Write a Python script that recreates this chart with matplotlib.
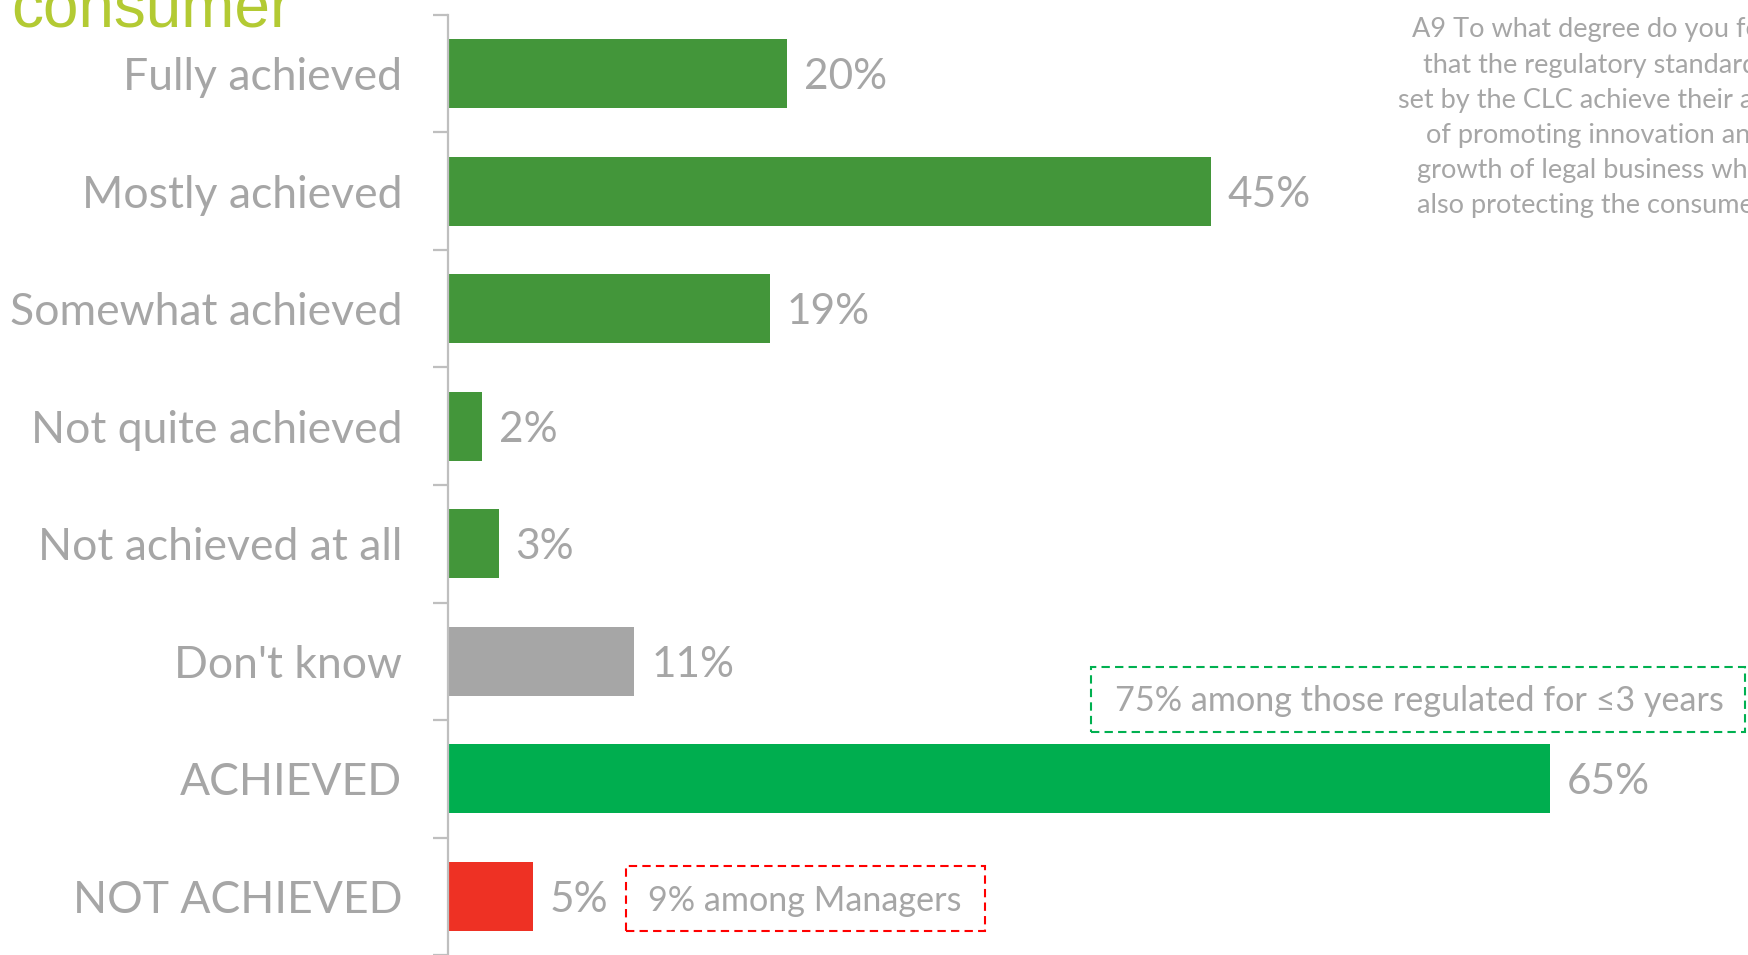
import matplotlib
matplotlib.use("Agg")
import matplotlib.pyplot as plt
from matplotlib.patches import Rectangle

categories = ["Fully achieved", "Mostly achieved", "Somewhat achieved",
              "Not quite achieved", "Not achieved at all", "Don't know",
              "ACHIEVED", "NOT ACHIEVED"]
values = [20, 45, 19, 2, 3, 11, 65, 5]
bar_colors = ["#43963A", "#43963A", "#43963A", "#43963A", "#43963A",
              "#A6A6A6", "#00AE4F", "#EE3124"]
value_labels = [f"{v}%" for v in values]

question_lines = ["A9 To what degree do you feel",
                  "that the regulatory standards",
                  "set by the CLC achieve their aims",
                  "of promoting innovation and",
                  "growth of legal business while",
                  "also protecting the consumer?"]
title_text = "consumer"
note_green = "75% among those regulated for \u22643 years"
note_red = "9% among Managers"

W, H = 1748, 955
FONT = ["Lato", "DejaVu Sans"]
GREY = "#A6A6A6"

fig = plt.figure(figsize=(W / 100, H / 100), dpi=100)
fig.patch.set_facecolor("white")

def fx(px):
    return px / W

def fy(py):
    return 1 - py / H

ax_left, ax_top = 448, 15
ax = fig.add_axes([fx(ax_left), 0.0, 1 - fx(ax_left), fy(ax_top)])
n = len(categories)
ypos = list(range(n))
ax.barh(ypos, values, height=0.587, color=bar_colors, zorder=2)
ax.set_ylim(n - 0.5, -0.5)
ax.set_xlim(0, (W - ax_left) / 16.95)

for sp in ["top", "right", "bottom"]:
    ax.spines[sp].set_visible(False)
ax.spines["left"].set_color("#BFBFBF")
ax.spines["left"].set_linewidth(1.6)
ax.set_xticks([])
ax.set_yticks(ypos)
ax.set_yticklabels(categories, fontfamily=FONT, fontsize=32, color=GREY)
ax.tick_params(axis="y", which="major", length=0, pad=33)
ax.set_yticks([i - 0.5 for i in range(n + 1)], minor=True)
ax.tick_params(axis="y", which="minor", length=11, width=1.6, color="#BFBFBF")

for i, (v, lab) in enumerate(zip(values, value_labels)):
    ax.annotate(lab, xy=(v, i), xytext=(12, -2.4), textcoords="offset points",
                va="center", ha="left", fontfamily=FONT, fontsize=30.5, color=GREY)

# title fragment
fig.text(fx(11), fy(27), title_text, fontfamily=["Liberation Sans", "DejaVu Sans"],
         fontsize=46, color="#B3CA33", va="baseline", ha="left")

# question text
for k, line in enumerate(question_lines):
    fig.text(fx(1596), fy(30 + 35.2 * k), line, fontfamily=FONT, fontsize=19.5,
             color=GREY, ha="center", va="center")

# annotation boxes
def dashed_box(x0, y0, x1, y1, color):
    r = Rectangle((fx(x0), fy(y1)), fx(x1) - fx(x0), fy(y0) - fy(y1),
                  transform=fig.transFigure, fill=False, edgecolor=color,
                  linewidth=1.5, linestyle=(0, (4, 2.5)), zorder=5)
    fig.add_artist(r)

dashed_box(1091, 667, 1745, 732, "#00B050")
fig.text(fx(1419), fy(701), note_green, fontfamily=FONT, fontsize=24.6,
         color=GREY, ha="center", va="center")
dashed_box(626, 866, 985, 931, "#FF0000")
fig.text(fx(805), fy(901), note_red, fontfamily=FONT, fontsize=24.6,
         color=GREY, ha="center", va="center")

fig.savefig("out.png", dpi=100, facecolor="white")
